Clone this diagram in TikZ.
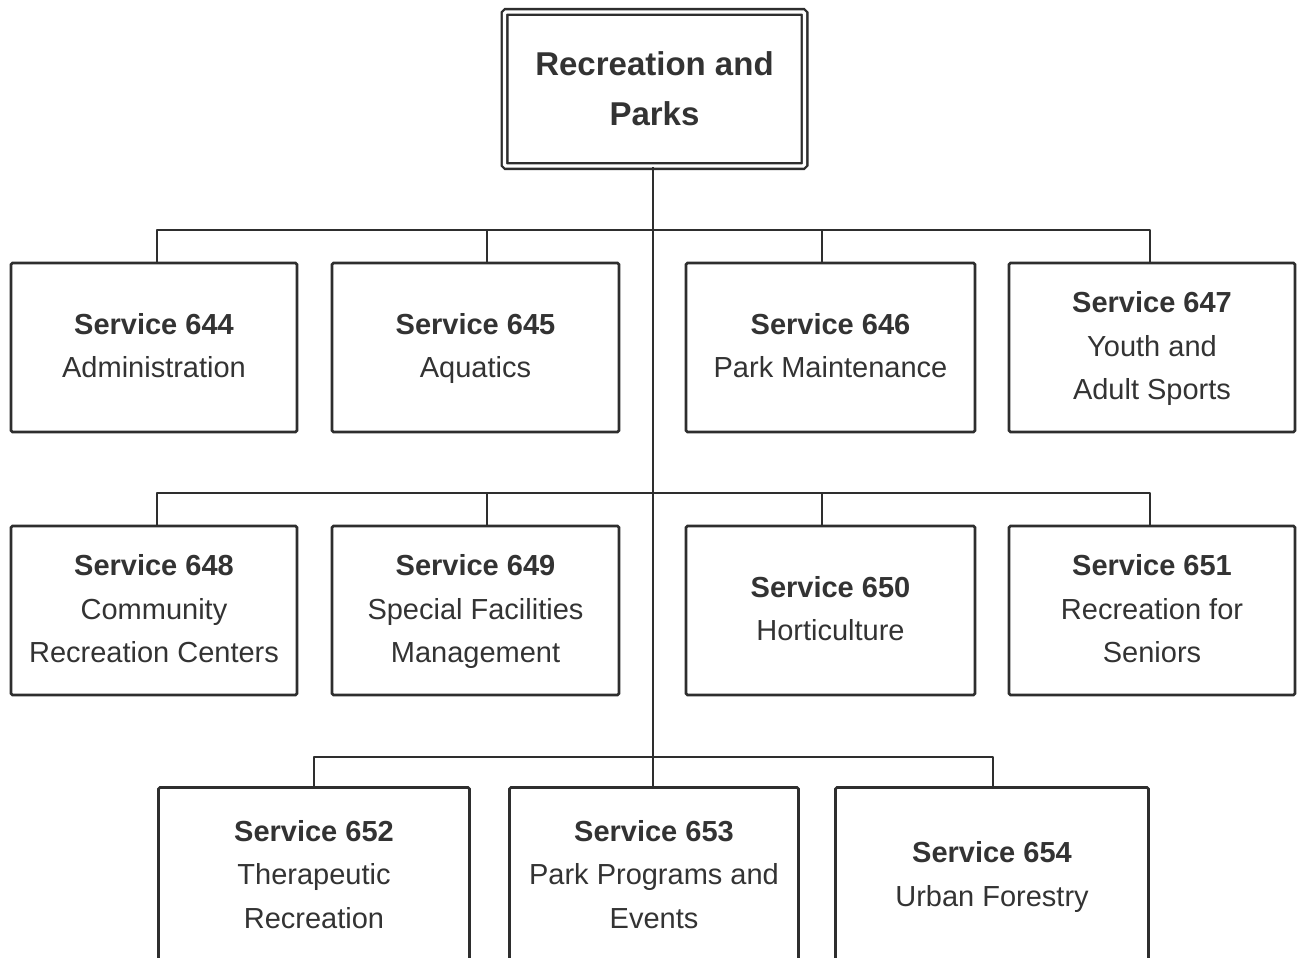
\documentclass[tikz,border=0pt]{standalone}
\usepackage{fontspec}
\setmainfont{Liberation Sans}
\definecolor{ink}{HTML}{2E2E2E}
\definecolor{txt}{HTML}{333333}
\begin{document}
\begin{tikzpicture}[x=1pt,y=-1pt,
  wire/.style={draw=ink, line width=2.6pt, line join=round},
  box/.style={draw=ink, line width=2.6pt, rounded corners=1.5pt, fill=white,
    minimum height=169pt, inner sep=0pt, align=center, text=txt,
    font=\fontsize{29}{43.5}\selectfont},
  topbox/.style={draw=ink, line width=2.4pt, double=white, double distance=3.2pt,
    rounded corners=1.5pt, minimum width=300pt, minimum height=154pt,
    inner sep=0pt, align=center, text=txt,
    font=\bfseries\fontsize{33}{50}\selectfont}]
\useasboundingbox (0,0) rectangle (1298,958);
\clip (0,0) rectangle (1298,958);
\fill[white] (0,0) rectangle (1298,958);

% junction coordinates
\coordinate (b1) at (653,230);
\coordinate (r1a) at (157,230);
\coordinate (r1b) at (487,230);
\coordinate (r1c) at (822,230);
\coordinate (r1d) at (1150,230);
\coordinate (r2a) at (157,493);
\coordinate (r2b) at (487,493);
\coordinate (r2c) at (822,493);
\coordinate (r2d) at (1150,493);
\coordinate (r3a) at (314,757);
\coordinate (r3c) at (993,757);

% nodes
\node[topbox] (top) at (654.5,89) {Recreation and\\Parks};

\node[box, minimum width=286pt] (n644) at (154,347.5) {\strut\textbf{Service 644}\\Administration\strut};
\node[box, minimum width=287pt] (n645) at (475.5,347.5) {\strut\textbf{Service 645}\\Aquatics\strut};
\node[box, minimum width=289pt] (n646) at (830.5,347.5) {\strut\textbf{Service 646}\\Park Maintenance\strut};
\node[box, minimum width=286pt] (n647) at (1152,347.5) {\strut\textbf{Service 647}\\Youth and\\Adult Sports\strut};

\node[box, minimum width=286pt] (n648) at (154,610.5) {\strut\textbf{Service 648}\\Community\\Recreation Centers\strut};
\node[box, minimum width=287pt] (n649) at (475.5,610.5) {\strut\textbf{Service 649}\\Special Facilities\\Management\strut};
\node[box, minimum width=289pt] (n650) at (830.5,610.5) {\strut\textbf{Service 650}\\Horticulture\strut};
\node[box, minimum width=286pt] (n651) at (1152,610.5) {\strut\textbf{Service 651}\\Recreation for\\Seniors\strut};

\node[box, minimum width=311pt, minimum height=177pt] (n652) at (314,876) {\strut\textbf{Service 652}\\Therapeutic\\Recreation\strut};
\node[box, minimum width=289pt, minimum height=177pt] (n653) at (654,876) {\strut\textbf{Service 653}\\Park Programs and\\Events\strut};
\node[box, minimum width=313pt, minimum height=177pt] (n654) at (992,876) {\strut\textbf{Service 654}\\Urban Forestry\strut};

% connectors
\draw[wire] (top.south -| b1) -- (n653.north -| b1);
\draw[wire] (n644.north -| r1a) -- (r1a) -- (r1d) -- (n647.north -| r1d);
\draw[wire] (r1b) -- (n645.north -| r1b);
\draw[wire] (r1c) -- (n646.north -| r1c);
\draw[wire] (n648.north -| r2a) -- (r2a) -- (r2d) -- (n651.north -| r2d);
\draw[wire] (r2b) -- (n649.north -| r2b);
\draw[wire] (r2c) -- (n650.north -| r2c);
\draw[wire] (n652.north -| r3a) -- (r3a) -- (r3c) -- (n654.north -| r3c);
\end{tikzpicture}
\end{document}
